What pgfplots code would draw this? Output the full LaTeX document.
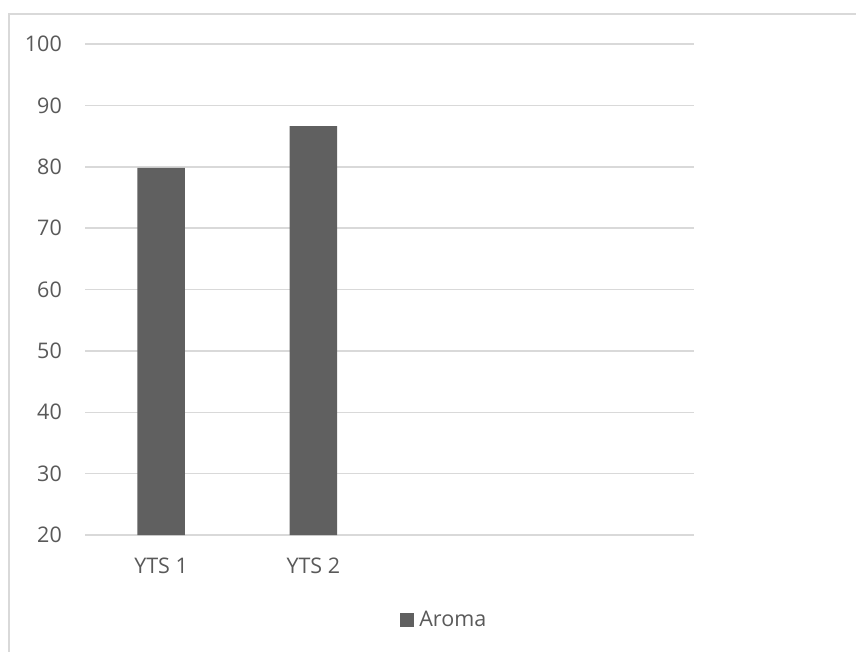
\documentclass[border=0pt]{standalone}
\usepackage{pgfplots}
\pgfplotsset{compat=1.18}
\usepackage{fontspec}
\setmainfont{Open Sans}
\definecolor{gridc}{RGB}{217,217,217}
\definecolor{txt}{RGB}{89,89,89}
\definecolor{barc}{RGB}{96,96,96}
\begin{document}
\begin{tikzpicture}[x=1pt,y=1pt]
\useasboundingbox (0,0) rectangle (856,651);
\draw[gridc, line width=1.5pt] (9,-5) -- (9,637) -- (861,637);
\begin{axis}[
  at={(85pt,116pt)}, anchor=south west,
  scale only axis, width=609pt, height=491pt,
  xmin=-0.5, xmax=3.5, ymin=20, ymax=100,
  xtick={0,1}, xticklabels={YTS 1, YTS 2},
  ytick={20,30,...,100},
  major tick length=0pt,
  axis line style={draw=none},
  ymajorgrids, major grid style={gridc, line width=1.5pt},
  /pgf/number format/assume math mode=true,
  tick label style={font=\fontsize{21.5}{26}\selectfont, text=txt, inner sep=0pt},
  yticklabel style={anchor=east, xshift=-23pt},
  xticklabel style={anchor=north, yshift=-22.7pt},
  ybar, bar width=47.6pt,
  legend style={at={(0.590,-0.173)}, anchor=center, draw=none, fill=none,
    font=\fontsize{21.5}{26}\selectfont, text=txt, legend columns=-1,
    /tikz/every even column/.append style={column sep=0pt}},
  legend image code/.code={\fill[barc] (0pt,-7pt) rectangle (14pt,7pt); \path (17pt,0pt);},
]
\addplot[fill=barc, draw=none] coordinates {(0,79.8) (1,86.6)};
\addlegendentry{Aroma}
\end{axis}
\end{tikzpicture}
\end{document}
